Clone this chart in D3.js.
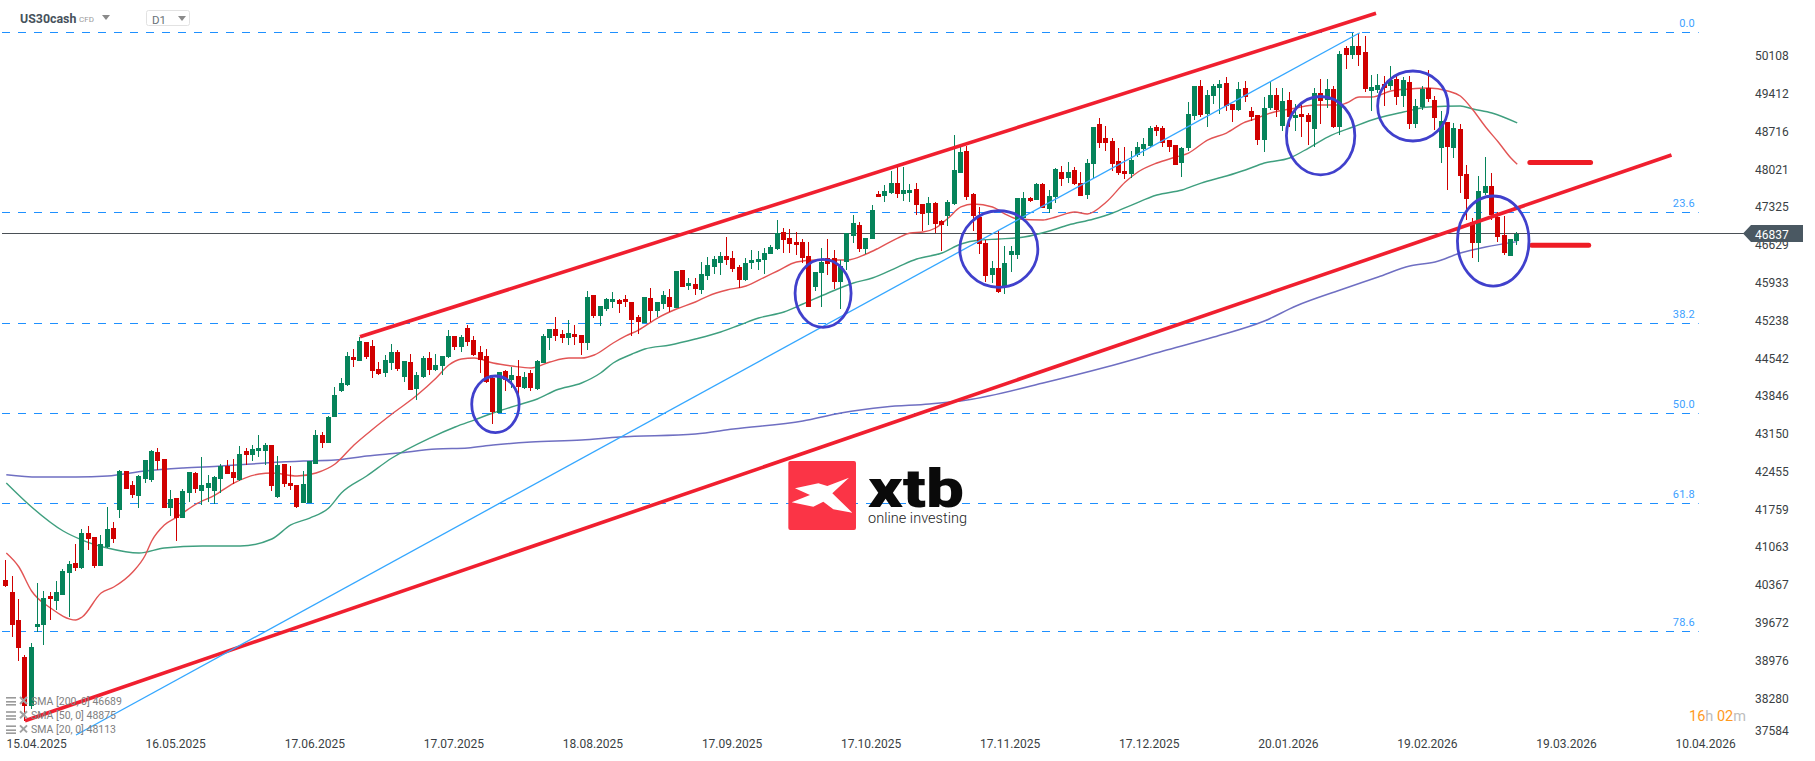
<!DOCTYPE html>
<html><head><meta charset="utf-8">
<style>
html,body{margin:0;padding:0;background:#fff;overflow:hidden}
svg{display:block;font-family:Roboto,sans-serif}
</style>
<script src="https://cdnjs.cloudflare.com/ajax/libs/d3/7.8.5/d3.min.js"></script>
</head><body><div id="c"></div>
<script>
const instrument="US30cash", instrumentType="CFD", timeframe="D1", timerParts=[["16",1],["h",0],[" ",0],["02",1],["m",0]];
const currentPrice=46837;
const priceTicks=[50108,49412,48716,48021,47325,46629,45933,45238,44542,43846,43150,42455,41759,41063,40367,39672,38976,38280,37584];
const dateTickIndex=[0,22,44,66,88,110,132,154,176,198,220,242,264];
const dateTickLabels=["15.04.2025","16.05.2025","17.06.2025","17.07.2025","18.08.2025","17.09.2025","17.10.2025","17.11.2025","17.12.2025","20.01.2026","19.02.2026","19.03.2026","10.04.2026"];
const fibLabels=["0.0","23.6","38.2","50.0","61.8","78.6"];
const fibPrices=[50540,47228,45179,43523,41867,39509];
const fibIndexRange=[-0.68,267.7];
const legendLabels=["SMA [200, 0] 46689","SMA [50, 0] 48875","SMA [20, 0] 48113"];
const opens=[40457,40236,39720,39038,38136,39591,39628,40162,40070,40181,
40586,40770,40678,41322,41248,40715,41064,41414,41746,42464,
42206,42004,42317,42298,42814,42685,41783,41967,41598,42059,
42427,42096,42151,42096,42317,42556,42446,42298,42832,42759,
42832,42832,42943,41985,42593,42243,42206,41875,41875,42593,
43127,42980,43459,43938,44048,44564,44490,44840,44766,44343,
44269,44453,44656,44195,44472,43975,44195,44545,44324,44398,
44564,44951,44748,45098,44877,44656,44582,44177,43532,44306,
44140,44214,43993,44269,43975,44453,44914,45080,44988,44914,
44988,44969,44822,45706,45319,45448,45577,45614,45632,45577,
45300,45190,45650,45411,45540,45669,45466,46166,45872,45908,
45798,46056,46221,46295,46424,46387,46221,45982,46295,46314,
46350,46461,46553,46866,46755,46682,46682,46424,45853,46111,
46387,46387,45945,46314,46792,46995,46553,46737,47566,47529,
47584,47768,47566,47584,47658,47382,47216,47400,47069,47161,
47382,47953,48358,47566,47142,46663,46074,46203,45872,46442,
46442,47124,47492,47455,47750,47290,47511,47971,47861,48008,
47768,47548,48118,48855,48597,48542,48174,47990,47934,48284,
48395,48450,48800,48782,48560,48468,48137,48413,49003,49555,
49039,49371,49518,49610,49223,49113,49518,49095,49021,48560,
49150,49389,48818,49297,48966,49039,49021,48763,49426,49297,
49500,48800,50255,50126,50292,50181,49463,49481,49592,49555,
49684,49371,49629,48855,49168,49518,49297,48413,48892,48413,
48763,47934,47050,46663,47584,47713,47142,46811,46424,46700];
const highs=[40825,40530,40107,39075,39296,40401,40254,40236,40438,40659,
40807,41120,41396,41451,41248,41285,41801,41525,42483,42464,
42280,42390,42667,42851,42888,42685,42114,41967,42133,42446,
42446,42722,42390,42372,42593,42667,42685,42925,42888,42943,
43127,42980,42943,42740,42593,42556,42206,42464,42648,43219,
43182,43477,44011,44177,44656,44711,44932,44840,44877,44472,
44601,44803,44693,44490,44619,44287,44582,44656,44619,44582,
45061,44951,44969,45153,44951,44766,44711,44214,44287,44324,
44379,44508,44287,44324,44508,44988,45080,45300,45061,45245,
45153,44969,45779,45706,45503,45650,45761,45632,45706,45577,
45337,45669,45835,45577,45779,45816,46148,46166,46019,46019,
46314,46406,46424,46498,46774,46516,46258,46387,46534,46516,
46571,46627,47087,46940,46921,46866,46737,46682,46129,46571,
46737,46534,46350,46848,47179,47050,46755,47363,47621,47732,
47990,48100,48063,47750,47768,47382,47511,47419,47087,47455,
48653,48468,48450,47584,47327,46719,46332,46885,46608,46608,
47492,47603,47511,47768,47768,47640,48045,48082,48155,48063,
47971,48211,48800,48966,48818,48597,48413,48432,48358,48524,
48597,48818,48837,48818,48560,48468,48432,49260,49555,49666,
49481,49592,49666,49721,49223,49629,49647,49168,49021,49352,
49647,49518,49518,49445,49223,49205,49058,49518,49684,49684,
49555,50200,50292,50531,50531,50476,49758,49776,49739,49923,
49739,49721,49739,49315,49555,49850,49371,49095,48892,48874,
48855,48100,47124,47897,48247,47953,47234,47161,46737,46866];
const lows=[40328,39407,38965,37860,38081,39499,39259,39720,39904,40181,
39775,40622,40659,41009,40678,40715,41046,41138,41598,42133,
41967,41783,42243,42261,42483,41783,41635,41175,41598,41893,
42059,41838,41893,41856,42059,42409,42225,42280,42575,42648,
42722,42575,42096,41967,42169,42114,41783,41875,41875,42593,
42888,42980,43459,43919,44030,44379,44490,44527,44177,44232,
44195,44324,44306,44103,43956,43772,44177,44232,44306,44232,
44545,44693,44656,44766,44582,44269,44085,43330,43532,43938,
43993,43827,43975,43938,43956,44453,44693,44859,44822,44785,
44785,44601,44693,45282,45135,45411,45466,45374,45485,44951,
44988,45190,45208,45300,45448,45393,45466,45853,45798,45706,
45724,45982,46093,46074,46258,46129,45835,45964,46185,46166,
46093,46461,46534,46479,46479,46442,46295,45485,45779,45485,
46074,45816,45448,46166,46663,46498,46461,46737,47511,47419,
47566,47492,47437,47419,47179,46885,46995,46848,46516,46977,
47363,47953,47455,46885,46461,45945,45927,45743,45724,46129,
46369,47124,47419,47455,47308,47216,47400,47713,47768,47732,
47529,47474,47861,48413,48358,47990,47916,47842,47861,48247,
48266,48413,48634,48432,48339,48100,47879,48358,48929,48984,
48800,49223,49039,49095,48892,49095,49260,48910,48468,48339,
49113,48984,48726,48800,48726,48616,48468,48432,48855,49150,
48782,48653,49868,50052,49923,49445,49095,49426,49187,49481,
49205,49168,48763,48782,49113,49260,48745,48137,47640,48229,
47584,47087,46387,46314,47548,47087,46682,46442,46424,46627];
const closes=[40346,39628,39204,38136,39222,39646,40125,40107,40236,40622,
40751,40678,41322,41212,40715,41120,41396,41212,42464,42133,
42022,42372,42667,42832,42648,41783,41948,41598,42096,42446,
42133,42206,42243,42353,42556,42409,42335,42777,42759,42869,
42888,42943,42188,42575,42225,42188,41801,42225,42648,43127,
42980,43459,43864,44085,44582,44508,44859,44564,44306,44251,
44508,44656,44343,44490,43956,44232,44545,44324,44416,44582,
44951,44748,44932,44840,44601,44508,44103,43551,44287,44140,
44232,44011,44195,43993,44490,44951,45080,44951,44914,45006,
44932,44822,45669,45319,45503,45632,45632,45540,45577,45245,
45208,45669,45411,45577,45706,45485,46148,45853,45927,45816,
46093,46258,46369,46424,46350,46185,45982,46295,46350,46369,
46479,46590,46848,46719,46645,46627,46387,45485,46129,46314,
46277,45945,46240,46848,47032,46553,46755,47271,47511,47621,
47768,47566,47640,47640,47363,47197,47400,47013,46995,47419,
48008,48339,47511,47161,46645,46056,46203,45761,46295,46516,
47492,47492,47437,47750,47308,47529,48026,47842,47971,47750,
47529,48137,48800,48505,48505,48118,47953,47934,48192,48432,
48487,48782,48726,48505,48432,48100,48413,49039,49555,49021,
49389,49555,49592,49187,49113,49500,49352,48984,48560,49150,
49389,49113,49279,48984,49021,48984,48892,49426,49279,49500,
48800,50144,50126,50292,50126,49500,49537,49574,49518,49666,
49352,49666,48855,49187,49500,49315,48966,48910,48432,48782,
47897,47474,46663,47621,47713,47179,46774,46479,46737,46837];
const sma20Index=[0,2,4,7,11,12,15,17,20,22,23,25,27,30,33,36,40,42,46,49,52,55,58,61,65,68,70,72,74,77,80,83,86,89,91,93,96,98,100,103,106,109,111,114,117,120,122,125,128,131,133,136,138,141,143,145,147,149,151,153,156,158,160,164,166,169,171,174,177,179,182,185,187,190,193,196,197,200,204,207,211,212,214,216,219,222,225,228,230,232,234,236,238,239];
const sma20=[40954,40696,40254,39941,39720,39775,40217,40328,40604,40917,41175,41470,41617,41856,42022,42243,42409,42427,42372,42427,42593,42943,43238,43514,43864,44177,44416,44527,44545,44453,44398,44361,44472,44545,44545,44601,44822,44951,45061,45282,45448,45577,45687,45798,45872,46037,46148,46314,46350,46350,46350,46461,46571,46755,46848,46866,46940,47124,47327,47382,47327,47197,47105,47087,47142,47234,47197,47419,47787,47971,48137,48247,48321,48560,48689,48892,48929,49058,49150,49205,49205,49242,49352,49352,49463,49500,49518,49463,49371,49113,48800,48524,48229,48113];
const sma50Index=[0,4,9,12,16,21,25,31,37,42,45,48,51,53,57,61,67,71,74,77,82,84,87,91,94,96,99,101,105,109,113,116,119,123,126,130,134,137,141,144,148,151,154,157,161,165,168,172,175,178,182,186,189,193,196,199,203,206,209,213,217,221,225,230,232,235,239];
const sma50=[42243,41801,41359,41193,41046,40954,41046,41083,41083,41212,41470,41598,41783,42059,42372,42704,43072,43275,43403,43532,43717,43790,43956,44085,44269,44453,44619,44711,44785,44895,45024,45153,45282,45393,45540,45743,45927,46019,46221,46369,46479,46645,46719,46737,46774,46885,46995,47105,47216,47363,47548,47640,47768,47897,48008,48137,48229,48413,48616,48800,48966,49076,49168,49187,49131,49058,48875];
const sma200Index=[0,5,11,16,22,28,34,41,47,52,57,62,68,73,77,83,91,97,109,115,126,132,139,146,152,164,174,183,191,199,204,211,217,222,226,230,234,239];
const sma200=[42396,42353,42353,42372,42464,42519,42556,42612,42648,42667,42740,42796,42869,42888,42943,42998,43035,43090,43146,43238,43385,43532,43643,43698,43772,44085,44379,44674,44932,45227,45503,45798,46037,46240,46314,46479,46590,46689];
const trendIndexStart=[55.95,2.96,11.03,241.0,241.3];
const trendIndexEnd=[216.66,263.4,214.1,250.6,250.3];
const trendPriceStart=[44937,37865,37602,48146,46621];
const trendPriceEnd=[50894,48284,50537,48146,46621];
const trendKinds=["channel","channel","fibBase","target","target"];
const circleIndex=[77.37,129.2,157.0,207.9,222.5,235.2];
const circlePrice=[43693,45737,46553,48640,49187,46700];
const circleIndexRadius=[3.75,4.43,6.17,5.41,5.58,5.66];
const circlePriceRadius=[521,626,705,722,645,829];

const W=1815,H=761;
const svg=d3.select("#c").append("svg").attr("width",W).attr("height",H);
const x=d3.scaleLinear().domain([0,239]).range([5.97,1516.9]);
const y=d3.scaleLinear().domain([51139.4,37123]).range([0,H]);
const lx=i=>x(i)+0.33;
const COL={up:"#06835a",down:"#d00000",fib:"#1e90ff"};

// fib levels
const fib=svg.append("g");
fibPrices.forEach((p,k)=>{
  const yy=Math.floor(y(p))+0.5;
  fib.append("line").attr("x1",lx(fibIndexRange[0])).attr("x2",lx(fibIndexRange[1])).attr("y1",yy).attr("y2",yy)
    .attr("stroke",COL.fib).attr("stroke-width",1).attr("stroke-dasharray","8 8");
  fib.append("text").attr("x",1695).attr("y",yy-9).attr("dy","0.35em").attr("text-anchor","end")
    .attr("font-size",11).attr("letter-spacing",0.2).attr("fill","#3d9fff").text(fibLabels[k]);
});

// watermark
const logo=svg.append("g").attr("transform","translate(770,450) scale(0.3333)");
logo.append("rect").attr("x",55).attr("y",33).attr("width",203).attr("height",207).attr("rx",6).attr("fill","#fb3446");
logo.append("polygon").attr("fill","#fff").attr("points","75,115 145,100 172,108 237,83 187,130 247,188 190,178 160,155 130,170 65,157 120,135");
svg.append("text").attr("transform","translate(868,506.5) scale(1.25,1)").attr("font-size",54).attr("font-weight",900).attr("fill","#0a0a0a").text("xtb");
svg.append("text").attr("x",868).attr("y",523).attr("font-size",14.5).attr("font-weight",300).attr("fill","#222")
  .attr("textLength",99).attr("lengthAdjust","spacing").text("online investing");

// current price line
const py=Math.floor(y(currentPrice))+0.5;
svg.append("line").attr("x1",2).attr("x2",1745).attr("y1",py).attr("y2",py).attr("stroke","#4a5056").attr("stroke-width",1);

// moving averages
const lineGen=d3.line().x(d=>lx(d[0])).y(d=>y(d[1])).curve(d3.curveMonotoneX);
[[sma200Index,sma200,"#6f6fc2",1.5],[sma50Index,sma50,"#3f9f7f",1.4],[sma20Index,sma20,"#e25454",1.4]].forEach(([ix,v,c,w])=>{
  svg.append("path").attr("d",lineGen(ix.map((i,k)=>[i,v[k]]))).attr("fill","none").attr("stroke",c).attr("stroke-width",w);
});

// candles
const candles=opens.map((o,i)=>({i,o,h:highs[i],l:lows[i],c:closes[i]}));
const cg=svg.append("g").attr("shape-rendering","crispEdges");
const sel=cg.selectAll("g").data(candles).join("g").attr("fill",d=>d.c>=d.o?COL.up:COL.down);
sel.append("rect").attr("x",d=>Math.floor(x(d.i))).attr("width",1).attr("y",d=>y(d.h)).attr("height",d=>Math.max(1,y(d.l)-y(d.h)));
sel.append("rect").attr("x",d=>Math.floor(x(d.i))-2).attr("width",5).attr("y",d=>y(Math.max(d.o,d.c))).attr("height",d=>Math.max(1,Math.abs(y(d.o)-y(d.c))));

// drawn annotations
const trendStyle={channel:["#f01f2f",3.6],fibBase:["#35a7ff",1.3],target:["#ee1c25",5]};
trendKinds.forEach((k,j)=>{
  svg.append("line").attr("x1",lx(trendIndexStart[j])).attr("x2",lx(trendIndexEnd[j]))
    .attr("y1",y(trendPriceStart[j])).attr("y2",y(trendPriceEnd[j]))
    .attr("stroke",trendStyle[k][0]).attr("stroke-width",trendStyle[k][1])
    .attr("stroke-linecap",k==="target"?"round":"butt");
});
circleIndex.forEach((c,j)=>{
  svg.append("ellipse").attr("cx",lx(c)).attr("cy",y(circlePrice[j]))
    .attr("rx",x(circleIndexRadius[j])-x(0)).attr("ry",y(0)-y(circlePriceRadius[j]))
    .attr("fill","none").attr("stroke","#4040cc").attr("stroke-width",2.8);
});

// price axis
const yAxis=d3.axisRight(y).tickValues(priceTicks).tickSize(0).tickPadding(0).tickFormat(d3.format("d"));
const ya=svg.append("g").attr("transform","translate(1755,0)").call(yAxis);
ya.select(".domain").remove();
ya.selectAll("text").attr("font-family","Roboto,sans-serif").attr("font-size",12).attr("fill","#3a3f44");
ya.selectAll(".tick").filter(d=>y(d)>732).attr("transform","translate(0,731)");

// date axis
const xAxis=d3.axisBottom(x).tickValues(dateTickIndex).tickSize(0).tickPadding(0)
  .tickFormat(d=>dateTickLabels[dateTickIndex.indexOf(d)]);
const xa=svg.append("g").attr("transform","translate(0,744)").call(xAxis);
xa.select(".domain").remove();
xa.selectAll("text").attr("text-anchor","start").attr("y",0).attr("dy","0.35em")
  .attr("font-family","Roboto,sans-serif").attr("font-size",12).attr("fill","#3a3f44");

// current price tag
svg.append("polygon").attr("points",[[1743,py],[1751,225],[1803,225],[1803,242],[1751,242]].join(" ")).attr("fill","#4a5862");
svg.append("text").attr("x",1755).attr("y",py+1).attr("dy","0.35em").attr("font-size",12).attr("fill","#fff").text(currentPrice);

// header
svg.append("text").attr("x",20).attr("y",19).attr("dy","0.35em").attr("font-size",12.4).attr("font-weight",700).attr("fill","#47525c").text(instrument);
svg.append("text").attr("x",79).attr("y",19.5).attr("dy","0.35em").attr("font-size",8).attr("fill","#9a9a9a").text(instrumentType);
svg.append("polygon").attr("points","102,15 110,15 106,20").attr("fill","#8a8a8a");
svg.append("rect").attr("x",146.5).attr("y",10.5).attr("width",43).attr("height",15).attr("rx",2).attr("fill","#fff").attr("stroke","#e2e2e2");
svg.append("text").attr("x",152).attr("y",19.5).attr("dy","0.35em").attr("font-size",11.5).attr("fill","#6a7278").text(timeframe);
svg.append("polygon").attr("points","178,16 186,16 182,21").attr("fill","#8a8a8a");

// SMA legend
legendLabels.forEach((t,k)=>{
  const yy=701+k*14.2;
  const g=svg.append("g").attr("transform",`translate(6,${yy})`);
  [-4,0,3].forEach(d=>g.append("rect").attr("x",0).attr("y",d).attr("width",10).attr("height",1.6).attr("fill","#9a9a9a"));
  g.append("path").attr("d","M14,-4 L21,3 M21,-4 L14,3").attr("stroke","#a0a0a0").attr("stroke-width",2).attr("fill","none");
  svg.append("text").attr("x",31).attr("y",yy).attr("dy","0.35em").attr("font-size",10.5)
    .attr("fill","#808080").text(t);
});

// timer
const tt=svg.append("text").attr("x",1689).attr("y",716).attr("dy","0.35em").attr("font-size",14.5).style("white-space","pre");
timerParts.forEach(([t,o])=>tt.append("tspan").attr("fill",o?"#ff9a1e":"#bdbdbd").text(t));
</script></body></html>
